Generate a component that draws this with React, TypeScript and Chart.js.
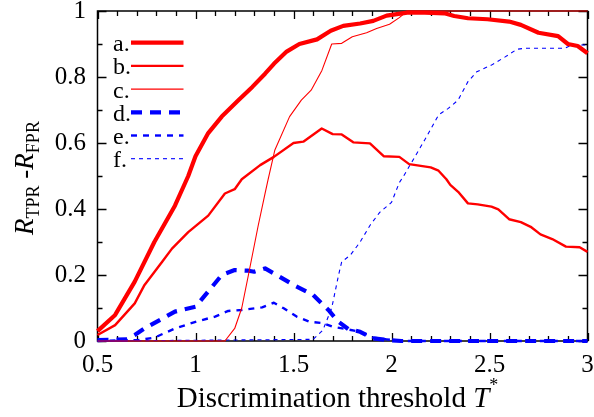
import React, { useEffect, useRef } from "react";
import { Chart, registerables } from "chart.js";

Chart.register(...registerables);

// ---- data ----
const tA = [0.5, 0.59, 0.69, 0.79, 0.895, 0.963, 1.0, 1.065, 1.134, 1.22, 1.29, 1.355, 1.4, 1.465, 1.53, 1.62, 1.69, 1.754, 1.84, 1.907, 1.975, 2.08, 2.17, 2.27, 2.32, 2.39, 2.49, 2.6, 2.66, 2.75, 2.85, 2.9, 2.95, 3.0];
const vA = [0.03, 0.079, 0.18, 0.3, 0.41, 0.5, 0.56, 0.63, 0.68, 0.73, 0.77, 0.81, 0.84, 0.877, 0.9, 0.914, 0.94, 0.955, 0.962, 0.97, 0.986, 0.995, 0.995, 0.993, 0.985, 0.978, 0.975, 0.968, 0.958, 0.934, 0.924, 0.9, 0.894, 0.872];

const tB = [0.5, 0.59, 0.69, 0.74, 0.83, 0.88, 0.963, 1.065, 1.15, 1.2, 1.236, 1.33, 1.4, 1.5, 1.55, 1.644, 1.7, 1.746, 1.805, 1.89, 1.96, 2.04, 2.09, 2.2, 2.24, 2.28, 2.3, 2.34, 2.39, 2.44, 2.51, 2.545, 2.6, 2.66, 2.71, 2.76, 2.82, 2.89, 2.96, 3.0];
const vB = [0.018, 0.048, 0.114, 0.17, 0.24, 0.28, 0.33, 0.38, 0.447, 0.46, 0.49, 0.533, 0.558, 0.6, 0.604, 0.644, 0.627, 0.626, 0.602, 0.599, 0.56, 0.558, 0.536, 0.526, 0.516, 0.49, 0.473, 0.452, 0.417, 0.414, 0.407, 0.399, 0.369, 0.36, 0.346, 0.323, 0.309, 0.286, 0.284, 0.27];

const tC = [0.5, 1.15, 1.2, 1.236, 1.27, 1.32, 1.355, 1.37, 1.405, 1.48, 1.54, 1.59, 1.645, 1.695, 1.746, 1.8, 1.873, 1.924, 1.99, 2.04, 2.08, 3.0];
const vC = [0, 0, 0.038, 0.1, 0.2, 0.35, 0.447, 0.488, 0.579, 0.68, 0.73, 0.76, 0.82, 0.9, 0.902, 0.922, 0.934, 0.947, 0.96, 0.98, 1.0, 1.0];

const tD = [0.5, 0.65, 0.69, 0.74, 0.895, 1.0, 1.065, 1.134, 1.2, 1.27, 1.3, 1.355, 1.414, 1.5, 1.6, 1.678, 1.73, 1.78, 1.84, 1.907, 1.98, 2.05, 3.0];
const vD = [0.003, 0.005, 0.018, 0.038, 0.089, 0.104, 0.15, 0.2, 0.215, 0.213, 0.21, 0.22, 0.2, 0.17, 0.14, 0.094, 0.058, 0.036, 0.028, 0.008, 0.003, 0, 0];

const tE = [0.5, 0.71, 0.79, 0.895, 1.0, 1.1, 1.167, 1.236, 1.34, 1.4, 1.45, 1.516, 1.584, 1.65, 1.7, 1.77, 1.84, 1.907, 1.975, 2.05, 3.0];
const vE = [0, 0.003, 0.01, 0.038, 0.058, 0.074, 0.091, 0.094, 0.102, 0.116, 0.099, 0.074, 0.058, 0.054, 0.043, 0.036, 0.028, 0.01, 0.005, 0, 0];

const tF = [0.5, 1.6, 1.65, 1.695, 1.73, 1.746, 1.79, 1.84, 1.89, 1.94, 2.0, 2.04, 2.06, 2.13, 2.17, 2.24, 2.29, 2.34, 2.39, 2.435, 2.51, 2.58, 2.64, 2.68, 2.885, 2.92, 3.0];
const vF = [0, 0.005, 0.033, 0.1, 0.2, 0.24, 0.26, 0.3, 0.35, 0.39, 0.42, 0.48, 0.498, 0.569, 0.61, 0.685, 0.705, 0.73, 0.786, 0.816, 0.836, 0.861, 0.884, 0.887, 0.887, 0.897, 0.897];

const legendLabels = ["a.", "b.", "c.", "d.", "e.", "f."];
const xMin = 0.5;
const xMax = 3;
const xStep = 0.5;
const yMin = 0;
const yMax = 1;
const yStep = 0.2;
const xTitleText = "Discrimination threshold ";
const xTitleVar = "T";
const xTitleSup = "*";
const yTitleVar = "R";
const yTitleSub1 = "TPR";
const yTitleSub2 = "FPR";

// ---- styles ----
const RED = "#ff0000";
const BLUE = "#0000ff";
const SERIF = '"Liberation Serif", "DejaVu Serif", serif';

const pts = (t: number[], v: number[]) => t.map((x, i) => ({ x, y: v[i] }));

const seriesDefs = [
  { t: tA, v: vA, color: RED, width: 4.2, dash: [] as number[] },
  { t: tB, v: vB, color: RED, width: 2.4, dash: [] as number[] },
  { t: tC, v: vC, color: RED, width: 1.1, dash: [] as number[] },
  { t: tD, v: vD, color: BLUE, width: 4.2, dash: [11, 8] },
  { t: tE, v: vE, color: BLUE, width: 2.4, dash: [6, 6] },
  { t: tF, v: vF, color: BLUE, width: 1.1, dash: [4, 4] },
];

const framePlugin = {
  id: "frameTicks",
  beforeDatasetsDraw(chart: any) {
    const { ctx, chartArea, scales } = chart;
    const { left, right, top, bottom } = chartArea;
    const x = scales.x;
    const y = scales.y;
    ctx.save();
    ctx.strokeStyle = "#000";
    ctx.lineWidth = 1.5;
    ctx.strokeRect(left, top, right - left, bottom - top);
    ctx.lineWidth = 1.3;
    ctx.beginPath();
    for (let i = 0; i <= 25; i++) {
      const px = Math.round(x.getPixelForValue(xMin + i * 0.1)) + 0.5;
      const L = i % 5 === 0 ? 8 : 5;
      ctx.moveTo(px, bottom);
      ctx.lineTo(px, bottom - L);
      ctx.moveTo(px, top);
      ctx.lineTo(px, top + L);
    }
    for (let i = 0; i <= 10; i++) {
      const py = Math.round(y.getPixelForValue(i * 0.1)) + 0.5;
      const L = i % 2 === 0 ? 9 : 5;
      ctx.moveTo(left, py);
      ctx.lineTo(left + L, py);
      ctx.moveTo(right, py);
      ctx.lineTo(right - L, py);
    }
    ctx.stroke();
    ctx.restore();
  },
  afterDraw(chart: any) {
    const { ctx, chartArea } = chart;
    const { left, right, top, bottom } = chartArea;
    ctx.save();
    // legend
    ctx.textBaseline = "alphabetic";
    ctx.textAlign = "left";
    chart.data.datasets.forEach((ds: any, i: number) => {
      const cy = top + 31.7 + i * 23.2;
      ctx.fillStyle = "#000";
      ctx.font = `24px ${SERIF}`;
      ctx.fillText(legendLabels[i], left + 15.5, cy + 8.5);
      ctx.beginPath();
      ctx.strokeStyle = ds.borderColor;
      ctx.lineWidth = ds.borderWidth;
      ctx.setLineDash(ds.borderDash || []);
      ctx.moveTo(left + 33.5, cy);
      ctx.lineTo(left + 86, cy);
      ctx.stroke();
    });
    ctx.setLineDash([]);

    // x title
    const bigF = `29px ${SERIF}`;
    const bigI = `italic 29px ${SERIF}`;
    const supF = `18px ${SERIF}`;
    ctx.fillStyle = "#000";
    ctx.font = bigF;
    const w1 = ctx.measureText(xTitleText).width;
    ctx.font = bigI;
    const w2 = ctx.measureText(xTitleVar).width;
    ctx.font = supF;
    const w3 = ctx.measureText(xTitleSup).width;
    const total = w1 + w2 + w3;
    let sx = (left + right) / 2 - 5 - total / 2;
    const by = bottom + 66;
    ctx.font = bigF;
    ctx.fillText(xTitleText, sx, by);
    sx += w1;
    ctx.font = bigI;
    ctx.fillText(xTitleVar, sx, by);
    sx += w2;
    ctx.font = supF;
    ctx.fillText(xTitleSup, sx, by - 16);

    // y title (rotated)
    const mainI = `italic 27px ${SERIF}`;
    const mainN = `27px ${SERIF}`;
    const subF = `18px ${SERIF}`;
    ctx.font = mainI;
    const rW = ctx.measureText(yTitleVar).width;
    ctx.font = subF;
    const s1W = ctx.measureText(yTitleSub1).width;
    const s2W = ctx.measureText(yTitleSub2).width;
    ctx.font = mainN;
    const dash = " -";
    const dW = ctx.measureText(dash).width;
    const tot = rW + s1W + dW + rW + s2W;
    ctx.translate(33, (top + bottom) / 2 + 2);
    ctx.rotate(-Math.PI / 2);
    let px = -tot / 2;
    ctx.font = mainI;
    ctx.fillText(yTitleVar, px, 0);
    px += rW;
    ctx.font = subF;
    ctx.fillText(yTitleSub1, px, 6);
    px += s1W;
    ctx.font = mainN;
    ctx.fillText(dash, px, 0);
    px += dW;
    ctx.font = mainI;
    ctx.fillText(yTitleVar, px, 0);
    px += rW;
    ctx.font = subF;
    ctx.fillText(yTitleSub2, px, 6);
    ctx.restore();
  },
};

export default function App() {
  const ref = useRef<HTMLCanvasElement | null>(null);
  useEffect(() => {
    if (!ref.current) return;
    const chart = new Chart(ref.current, {
      type: "line",
      data: {
        datasets: seriesDefs.map((s, i) => ({
          label: legendLabels[i],
          data: pts(s.t, s.v),
          borderColor: s.color,
          backgroundColor: s.color,
          borderWidth: s.width,
          borderDash: s.dash,
          pointRadius: 0,
          tension: 0,
          fill: false,
          clip: 6,
          borderJoinStyle: "round",
        })),
      },
      options: {
        responsive: false,
        animation: false,
        layout: { padding: { left: 0, top: 11, right: 6.5, bottom: 0 } },
        plugins: { legend: { display: false }, tooltip: { enabled: false }, title: { display: false } },
        scales: {
          x: {
            type: "linear",
            min: xMin,
            max: xMax,
            grid: { display: false, drawTicks: false },
            border: { display: false },
            ticks: {
              stepSize: xStep,
              padding: 9,
              color: "#000",
              font: { family: SERIF, size: 25 },
              maxRotation: 0,
              callback: (v: any) => String(Number(Number(v).toFixed(1))),
            },
            afterFit: (s: any) => {
              s.height = 76;
              s.paddingLeft = 0;
              s.paddingRight = 0;
            },
          },
          y: {
            type: "linear",
            min: yMin,
            max: yMax,
            grid: { display: false, drawTicks: false },
            border: { display: false },
            ticks: {
              stepSize: yStep,
              padding: 11.5,
              color: "#000",
              font: { family: SERIF, size: 25 },
              callback: (v: any) => String(Number(Number(v).toFixed(1))),
            },
            afterFit: (s: any) => {
              s.width = 97.5;
              s.paddingTop = 0;
              s.paddingBottom = 0;
            },
          },
        },
      },
      plugins: [framePlugin],
    } as any);
    return () => chart.destroy();
  }, []);
  return (
    <div style={{ position: "absolute", left: 0, top: 0, width: 594, height: 417 }}>
      <canvas ref={ref} width={594} height={417} style={{ display: "block", width: 594, height: 417 }} />
    </div>
  );
}
